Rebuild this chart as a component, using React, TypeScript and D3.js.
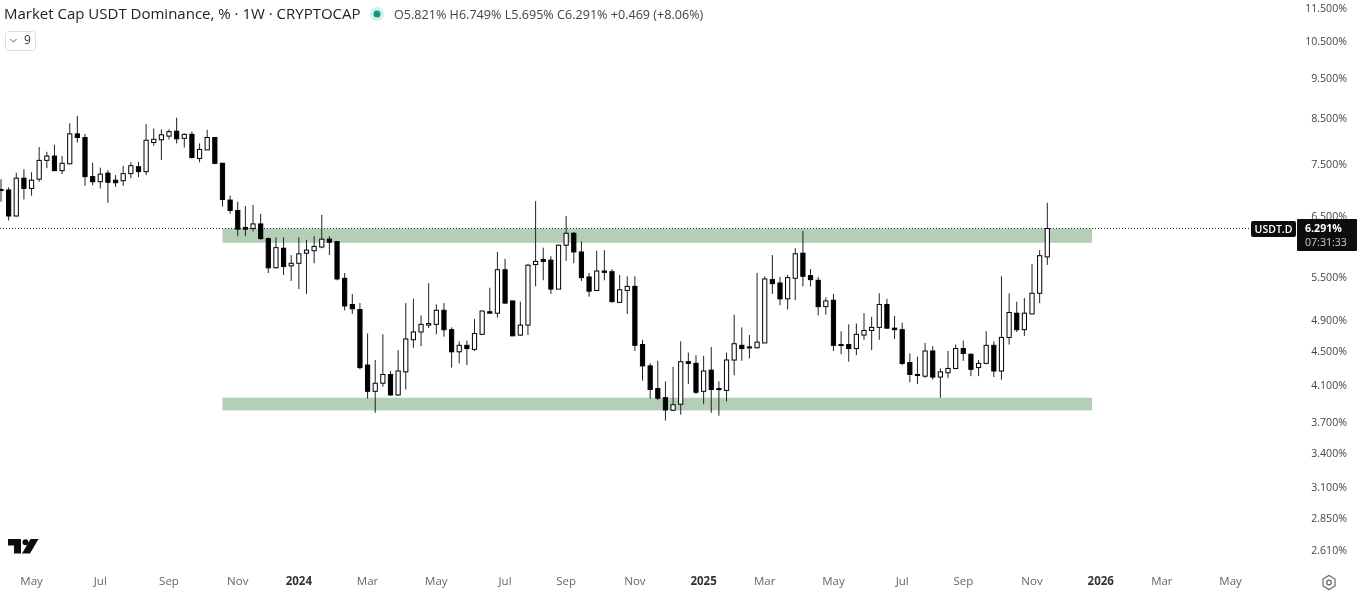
import React from "react";
import * as d3 from "d3";

const W = 1361, H = 595;
const firstWeek = "2023-04-03", lastWeek = "2025-11-17";
const opens = [7.00,6.99,6.51,7.22,7.02,7.20,7.58,7.67,7.37,7.51,
8.15,8.07,7.25,7.15,7.32,7.18,7.17,7.31,7.45,7.35,
7.96,8.02,8.10,8.21,8.05,8.14,7.62,7.80,8.07,7.52,
6.80,6.61,6.31,6.29,6.37,6.12,5.65,5.96,5.68,5.72,
5.88,5.92,5.98,6.11,6.07,5.49,5.11,5.04,4.33,4.03,
4.12,4.22,3.99,4.25,4.64,4.74,4.83,4.84,5.03,4.77,
4.49,4.57,4.52,4.71,5.01,4.99,5.62,5.16,4.70,4.83,
5.70,5.78,5.77,5.33,6.01,6.21,5.90,5.51,5.31,5.60,
5.59,5.14,5.31,5.37,4.58,4.32,4.06,3.96,3.826,3.89,
4.37,4.35,4.03,4.27,4.06,4.04,4.39,4.57,4.55,4.54,
4.60,5.47,5.42,5.19,5.49,5.88,5.53,5.46,5.08,5.17,
4.58,4.58,4.53,4.70,4.76,4.80,5.11,4.79,4.77,4.36,
4.22,4.20,4.50,4.19,4.24,4.29,4.53,4.46,4.30,4.35,
4.57,4.26,4.67,4.99,4.77,4.98,5.27,5.821];
const highs = [7.20,7.04,7.33,7.40,7.34,7.86,7.76,7.91,7.67,8.39,
8.56,8.15,7.53,7.43,7.38,7.28,7.47,7.54,7.55,8.37,
8.27,8.25,8.25,8.52,8.16,8.20,7.94,8.24,8.07,7.53,
6.88,6.77,6.69,6.71,6.55,6.14,6.14,6.14,5.85,6.14,
6.10,6.16,6.53,6.16,6.08,5.57,5.26,5.13,4.72,4.39,
4.71,4.26,4.51,5.13,5.19,4.96,5.415,5.11,5.13,4.80,
4.62,4.63,4.91,5.02,5.35,5.90,5.79,5.16,5.15,5.71,
6.78,5.97,5.83,6.02,6.51,6.23,6.07,5.57,5.92,5.93,
5.63,5.54,5.52,5.52,4.64,4.35,4.38,4.14,4.31,4.62,
4.48,4.45,4.44,4.55,4.14,4.48,4.97,4.80,4.70,5.57,
5.52,5.85,5.51,5.54,5.96,6.25,5.63,5.51,5.21,5.26,
4.75,4.84,4.85,4.99,4.94,5.27,5.19,4.95,4.86,4.47,
4.43,4.60,4.56,4.29,4.50,4.58,4.63,4.47,4.39,4.75,
4.62,5.52,5.27,5.15,5.20,5.71,5.93,6.749];
const lows = [6.77,6.43,6.50,6.81,6.88,7.15,7.42,7.36,7.30,7.50,
7.96,7.07,7.08,7.02,6.75,7.05,7.07,7.22,7.24,7.28,
7.89,7.59,8.03,7.94,7.85,7.62,7.54,7.80,7.50,6.68,
6.55,6.16,6.16,6.24,6.10,5.57,5.64,5.54,5.45,5.33,
5.26,5.72,5.96,5.85,5.46,5.03,4.98,4.28,3.95,3.80,
4.08,3.98,3.98,4.05,4.54,4.56,4.79,4.71,4.68,4.30,
4.35,4.33,4.50,4.70,4.99,4.93,5.12,4.69,4.69,4.70,
5.37,5.46,5.26,5.33,5.76,5.72,5.45,5.22,5.30,5.46,
5.14,5.13,4.98,4.50,4.15,3.95,3.935,3.72,3.82,3.78,
4.11,4.00,3.89,3.80,3.77,3.92,4.21,4.38,4.41,4.53,
4.60,5.26,5.10,5.04,5.17,5.37,5.37,4.96,4.97,4.50,
4.46,4.37,4.45,4.64,4.51,4.64,4.78,4.65,4.33,4.13,
4.11,4.18,4.16,3.96,4.18,4.28,4.38,4.20,4.20,4.34,
4.19,4.16,4.58,4.74,4.69,4.98,5.13,5.695];
const closes = [6.98,6.51,7.22,7.02,7.18,7.58,7.67,7.37,7.52,8.15,
8.07,7.25,7.15,7.30,7.14,7.13,7.31,7.47,7.35,8.01,
8.03,8.13,8.20,8.04,8.14,7.64,7.81,8.07,7.52,6.81,
6.61,6.28,6.28,6.37,6.12,5.65,5.97,5.67,5.72,5.87,
5.93,5.99,6.11,6.06,5.48,5.09,5.05,4.30,4.03,4.12,
4.22,3.99,4.26,4.65,4.74,4.84,4.85,5.03,4.77,4.49,
4.57,4.53,4.72,5.02,4.99,5.62,5.13,4.69,4.83,5.69,
5.75,5.75,5.33,6.01,6.21,5.90,5.50,5.30,5.60,5.58,
5.15,5.32,5.37,4.57,4.32,4.05,3.955,3.83,3.885,4.37,
4.35,4.02,4.26,4.05,4.05,4.39,4.59,4.53,4.54,4.61,
5.48,5.41,5.19,5.50,5.87,5.52,5.47,5.08,5.16,4.57,
4.57,4.53,4.71,4.76,4.80,5.11,4.79,4.77,4.35,4.22,
4.21,4.50,4.19,4.25,4.29,4.53,4.47,4.28,4.35,4.57,
4.26,4.67,5.00,4.77,4.99,5.27,5.84,6.291];
const priceTicks = [11.5,10.5,9.5,8.5,7.5,6.5,5.5,4.9,4.5,4.1,3.7,3.4,3.1,2.85,2.61];
const monthTicks: [string,string,boolean][] = [
["2023-05-01","May",false],["2023-07-03","Jul",false],["2023-09-04","Sep",false],["2023-11-06","Nov",false],
["2024-01-01","2024",true],["2024-03-04","Mar",false],["2024-05-06","May",false],["2024-07-08","Jul",false],
["2024-09-02","Sep",false],["2024-11-04","Nov",false],["2025-01-06","2025",true],["2025-03-03","Mar",false],
["2025-05-05","May",false],["2025-07-07","Jul",false],["2025-09-01","Sep",false],["2025-11-03","Nov",false],
["2026-01-05","2026",true],["2026-03-02","Mar",false],["2026-05-04","May",false]];
const zoneUpper = [6.29,6.05];
const zoneLower = [3.96,3.825];
const zoneStart = "2023-10-23", zoneEnd = "2025-12-28";
const title = "Market Cap USDT Dominance, % · 1W · CRYPTOCAP";
const legendValues = "O5.821% H6.749% L5.695% C6.291% +0.469 (+8.06%)";
const lastClose = 6.291;

const FONT = "'Open Sans', 'Noto Sans', sans-serif";

export default function App() {
  const d = (s: string) => new Date(s + "T00:00:00Z");
  const x = d3.scaleUtc().domain([d(firstWeek), d(lastWeek)]).range([1, 1047.3]);
  const y = d3.scaleLog().domain([8.7, 3.829]).range([110, 410]);
  const weeks = d3.utcMonday.range(d(firstWeek), d3.utcDay.offset(d(lastWeek), 1));
  const bw = 4.2;
  return (
    <svg width={W} height={H} viewBox={`0 0 ${W} ${H}`}
      style={{ position: "fixed", left: 0, top: 0, background: "#fff", fontFamily: FONT }}>
      <defs>
        <filter id="soft" filterUnits="userSpaceOnUse" x="0" y="0" width={W} height={H}>
          <feGaussianBlur stdDeviation="0.55" />
        </filter>
      </defs>
      <rect width={W} height={H} fill="#fff" />
      <g filter="url(#soft)">
        {[zoneUpper, zoneLower].map((z, i) => (
          <rect key={i} x={x(d(zoneStart))} width={x(d(zoneEnd)) - x(d(zoneStart))}
            y={y(z[0])} height={y(z[1]) - y(z[0])} fill="#b4cfb6" />
        ))}
        <line x1={0} x2={1252} y1={y(lastClose)} y2={y(lastClose)} stroke="#333" strokeWidth={1} strokeDasharray="1 2" />
        {weeks.map((w, i) => {
          const cx = x(w), up = closes[i] >= opens[i];
          const top = y(Math.max(opens[i], closes[i])), bot = y(Math.min(opens[i], closes[i]));
          return (
            <g key={i}>
              <line x1={cx} x2={cx} y1={y(highs[i])} y2={y(lows[i])} stroke="#222" strokeWidth={1} />
              <rect x={cx - bw / 2} width={bw} y={top} height={Math.max(bot - top, 1)}
                fill={up ? "#fff" : "#000"} stroke="#000" strokeWidth={1} />
            </g>
          );
        })}
        <text x={4} y={19} fontSize={15} fill="#222">{title}</text>
        <circle cx={377} cy={14} r={7} fill="#d5efe9" />
        <circle cx={377} cy={14} r={3.5} fill="#089981" />
        <text x={394} y={19} fontSize={12.6} fill="#444">{legendValues}</text>
        <rect x={5.5} y={31.5} width={30} height={19} rx={3} fill="#fff" stroke="#ddd" />
        <path d="M10.5 39 L13.5 42 L16.5 39" fill="none" stroke="#555" strokeWidth={1} />
        <text x={24} y={44} fontSize={12} fill="#333">9</text>
        {priceTicks.map(p => (
          <text key={p} x={1347} y={y(p)} dy="0.35em" textAnchor="end" fontSize={10.6} fill="#444">{p.toFixed(3)}%</text>
        ))}
        {monthTicks.map(([t, label, bold]) => (
          <text key={t} x={x(d(t))} y={585} textAnchor="middle" fontSize={11.5} fontWeight={bold ? 700 : 400} fill={bold ? "#333" : "#666"}>{label}</text>
        ))}
        <rect x={1251} y={221} width={45} height={16} rx={2} fill="#111" />
        <text x={1273.5} y={233} textAnchor="middle" fontSize={10.5} fontWeight={600} fill="#fff">USDT.D</text>
        <rect x={1297} y={219} width={60} height={32} rx={1} fill="#111" />
        <text x={1305} y={232} fontSize={10.6} fontWeight={700} fill="#fff">{lastClose.toFixed(3)}%</text>
        <text x={1305} y={246} fontSize={10.6} fill="#ccc">07:31:33</text>
        <path d="M8 539 H21 V553.5 H14 V545.5 H8 Z" fill="#111" />
        <circle cx={25.5} cy={542.3} r={3} fill="#111" />
        <path d="M30.5 539 H38.5 L30 553.5 H22 Z" fill="#111" />
        <path d="M1329 575.5 L1335 579 V586 L1329 589.5 L1323 586 V579 Z" fill="none" stroke="#666" strokeWidth={1.2} />
        <circle cx={1329} cy={582.5} r={2.3} fill="none" stroke="#666" strokeWidth={1.2} />
      </g>
    </svg>
  );
}
